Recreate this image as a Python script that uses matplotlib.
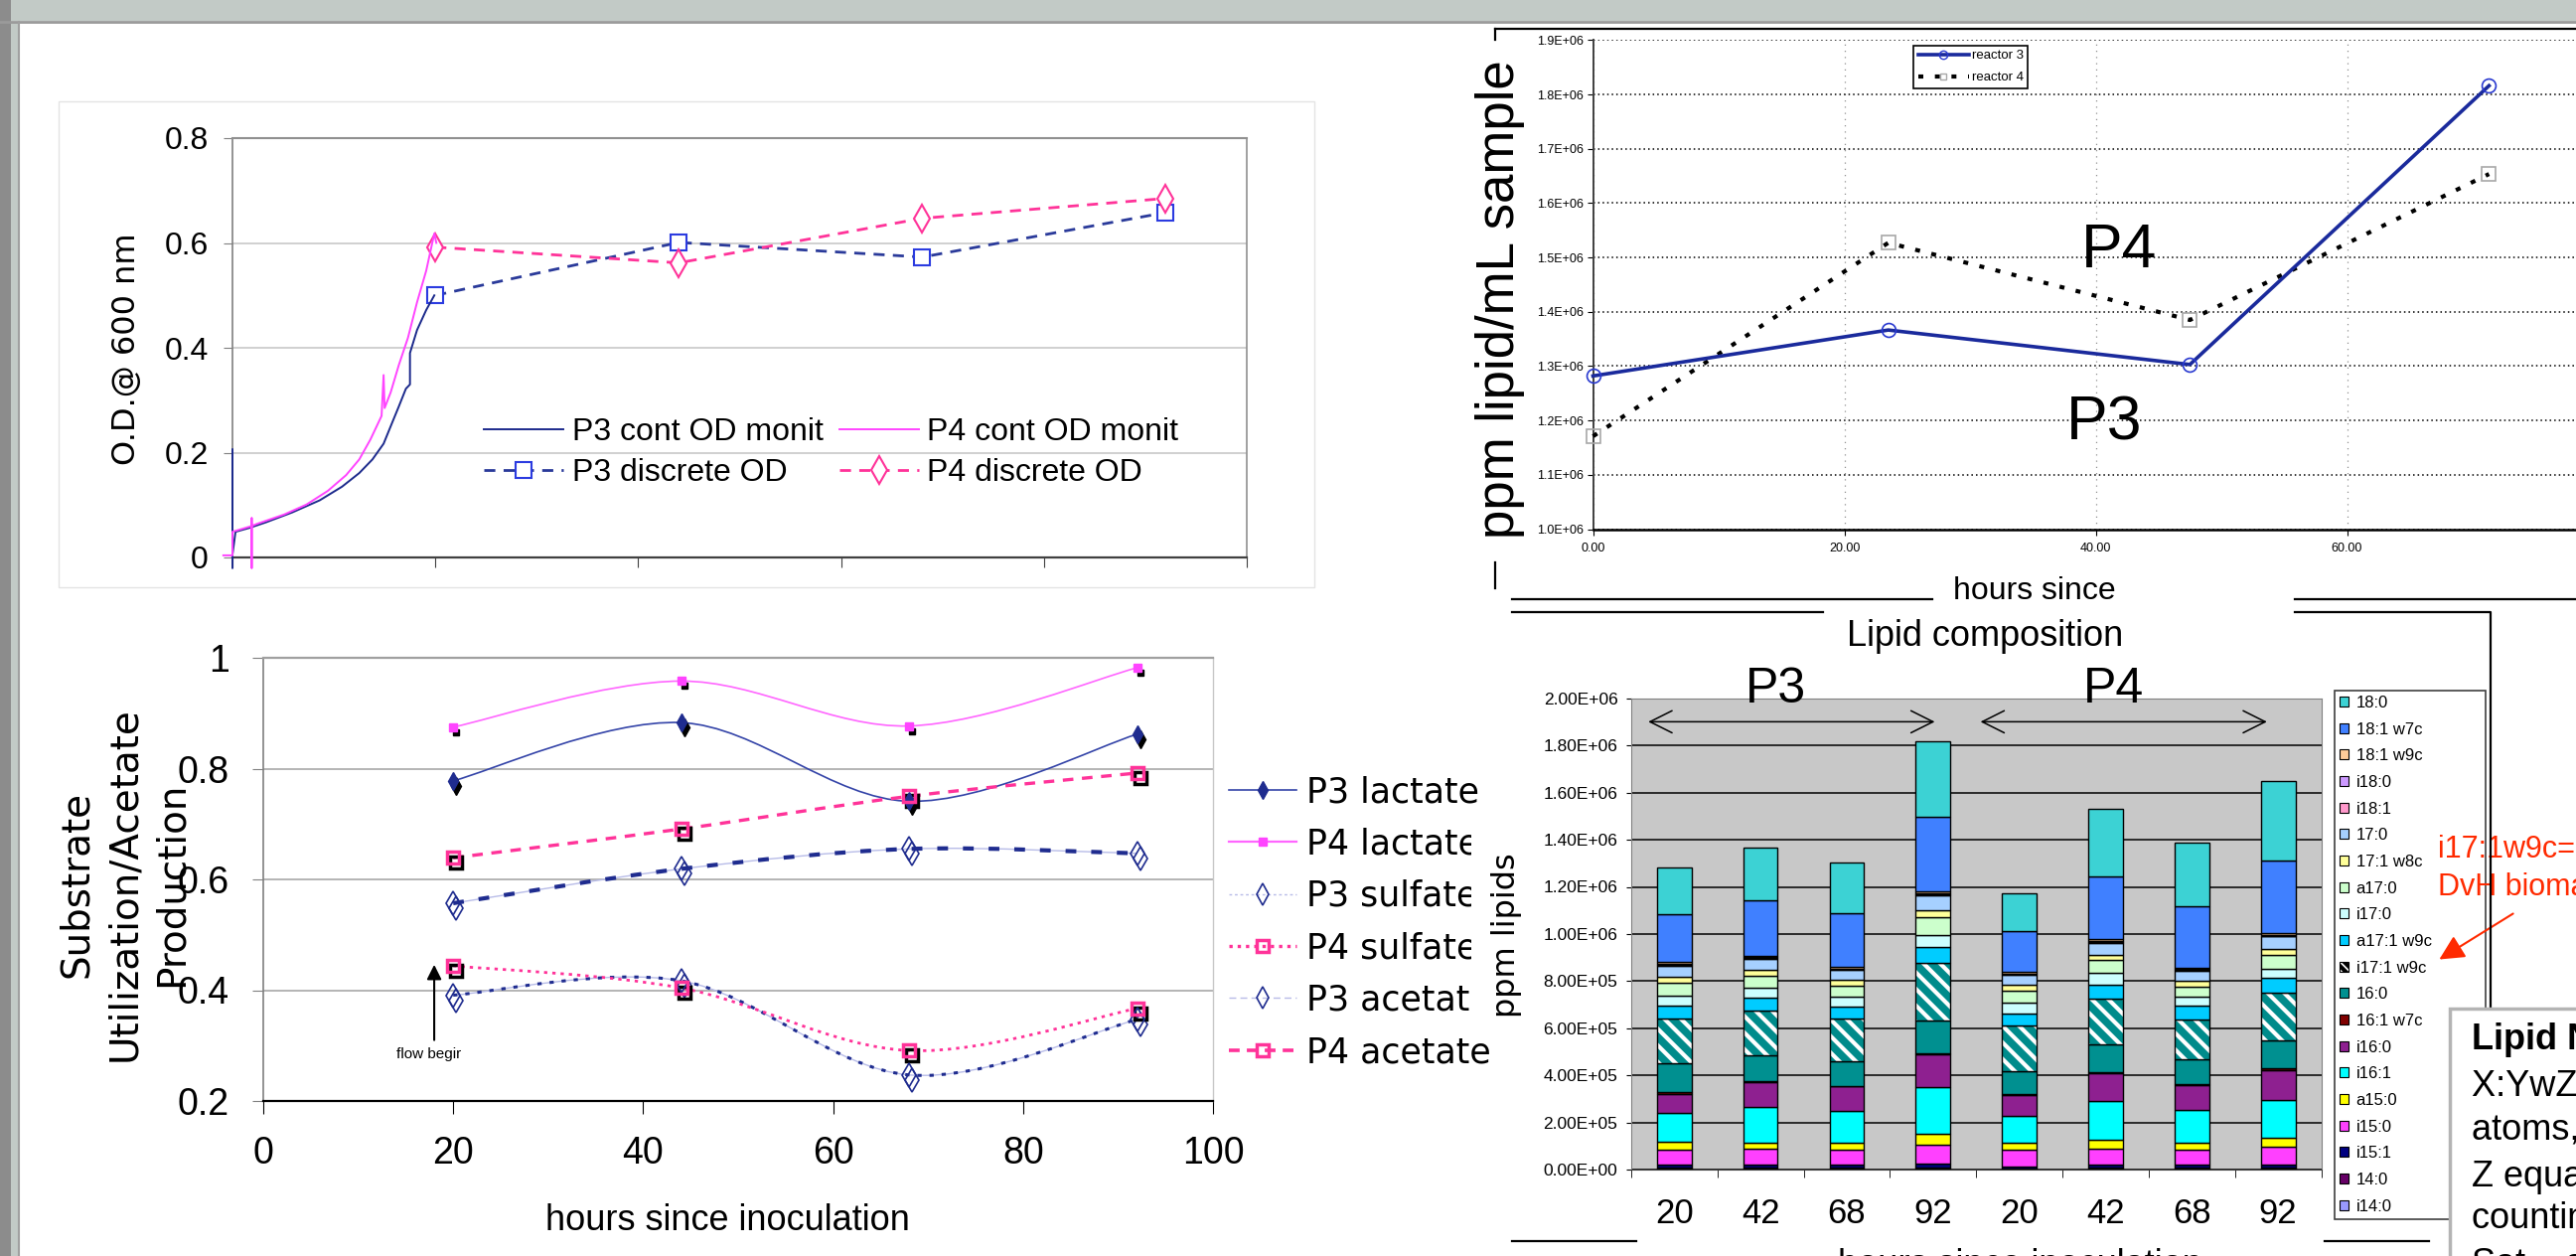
import numpy as np
import matplotlib
matplotlib.use("Agg")
from matplotlib import pyplot as plt
import matplotlib.patches as mpatches
from matplotlib.lines import Line2D
from matplotlib.path import Path
import matplotlib.transforms as mtransforms

W, H = 2593, 1264

# ---------------- data: optical density (top left)
od_cont_p3_hours = [0.0, 0.0, 0.0, 0.3, 1.6, 3.3, 5.9, 8.6, 10.8, 12.5, 13.8, 14.9,
                    15.7, 16.4, 17.1, 17.5, 17.5, 18.2, 19.1, 19.9]
od_cont_p3 = [-0.02, 0.206, 0.005, 0.049, 0.056, 0.067, 0.086, 0.109, 0.135, 0.161,
              0.187, 0.217, 0.255, 0.288, 0.322, 0.33, 0.39, 0.434, 0.472, 0.50]
od_cont_p4_hours = [-0.9, 0.0, 0.0, 1.9, 1.9, 1.9, 1.9, 2.4, 5.1, 7.3, 9.4, 11.2, 12.5,
                    13.6, 14.7, 14.9, 15.0, 15.6, 16.4, 17.3, 18.2, 19.1, 19.9, 20.1]
od_cont_p4 = [0.004, 0.004, 0.049, 0.060, 0.075, -0.02, 0.060, 0.064, 0.082, 0.101,
              0.127, 0.157, 0.187, 0.225, 0.270, 0.348, 0.285, 0.315, 0.367, 0.419,
              0.487, 0.547, 0.618, 0.60]
od_hours = [20, 44, 68, 92]
od_p3 = [0.500, 0.601, 0.573, 0.658]
od_p4 = [0.592, 0.562, 0.647, 0.685]
od_yticks = [0, 0.2, 0.4, 0.6, 0.8]
od_ylabels = ["0", "0.2", "0.4", "0.6", "0.8"]

# ---------------- data: substrate utilisation (bottom left)
sub_hours = [20, 44, 68, 92]
p3_lactate = [0.778, 0.883, 0.741, 0.862]
p4_lactate = [0.875, 0.958, 0.877, 0.982]
p3_sulfate = [0.391, 0.417, 0.247, 0.347]
p4_sulfate = [0.444, 0.404, 0.291, 0.367]
p3_acetate = [0.557, 0.619, 0.655, 0.647]
p4_acetate = [0.639, 0.691, 0.750, 0.792]
sub_yticks = [0.2, 0.4, 0.6, 0.8, 1.0]
sub_ylabels = ["0.2", "0.4", "0.6", "0.8", "1"]
sub_xticks = [0, 20, 40, 60, 80, 100]

# ---------------- data: total lipid (top right)
lipid_hours = [0.0, 23.5, 47.5, 71.3]
reactor3 = [1.282e6, 1.3665e6, 1.303e6, 1.816e6]
reactor4 = [1.171e6, 1.527e6, 1.385e6, 1.6535e6]
lipid_yticks = [1.0e6, 1.1e6, 1.2e6, 1.3e6, 1.4e6, 1.5e6, 1.6e6, 1.7e6, 1.8e6, 1.9e6]
lipid_xticks = [0, 20, 40, 60, 80]

# ---------------- data: lipid composition (bottom right), ppm, bottom of stack first
bar_labels = ["20", "42", "68", "92", "20", "42", "68", "92"]
i14_0 = [2e3, 2e3, 2e3, 2e3, 2e3, 2e3, 2e3, 2e3]
c14_0 = [4e3, 4e3, 4e3, 5e3, 3e3, 4e3, 4e3, 4e3]
i15_1 = [15e3, 15e3, 15e3, 18e3, 9e3, 14e3, 14e3, 15e3]
i15_0 = [63e3, 66e3, 61e3, 82e3, 68e3, 69e3, 62e3, 75e3]
a15_0 = [32e3, 28e3, 30e3, 45e3, 30e3, 38e3, 31e3, 37e3]
i16_1 = [122e3, 149e3, 138e3, 196e3, 117e3, 165e3, 141e3, 163e3]
i16_0 = [82e3, 108e3, 103e3, 141e3, 89e3, 117e3, 104e3, 127e3]
c16_1w7c = [7e3, 3e3, 3e3, 4e3, 2e3, 3e3, 3e3, 6e3]
c16_0 = [122e3, 110e3, 103e3, 141e3, 97e3, 118e3, 107e3, 118e3]
i17_1w9c = [194e3, 190e3, 180e3, 242e3, 194e3, 196e3, 169e3, 203e3]
a17_1w9c = [52e3, 56e3, 52e3, 70e3, 51e3, 59e3, 58e3, 62e3]
i17_0 = [45e3, 42e3, 42e3, 51e3, 48e3, 48e3, 37e3, 39e3]
a17_0 = [51e3, 51e3, 49e3, 73e3, 49e3, 58e3, 46e3, 62e3]
c17_1w8c = [27e3, 25e3, 24e3, 31e3, 25e3, 20e3, 25e3, 25e3]
c17_0 = [48e3, 46e3, 41e3, 62e3, 42e3, 51e3, 41e3, 52e3]
i18_1 = [4e3, 4e3, 3e3, 4e3, 3e3, 3e3, 3e3, 3e3]
i18_0 = [4e3, 4e3, 4e3, 4e3, 3e3, 4e3, 3e3, 4e3]
c18_1w9c = [9e3, 3e3, 8e3, 9e3, 8e3, 11e3, 5e3, 8e3]
c18_1w7c = [203e3, 235e3, 225e3, 317e3, 172e3, 266e3, 261e3, 308e3]
c18_0 = [196e3, 227e3, 215e3, 320e3, 161e3, 287e3, 273e3, 338e3]
bar_yticks = [0, 2e5, 4e5, 6e5, 8e5, 1.0e6, 1.2e6, 1.4e6, 1.6e6, 1.8e6, 2.0e6]

stack = [  # (label, values, colour), bottom to top
    ("i14:0", i14_0, "#9999ff"),
    ("14:0", c14_0, "#660066"),
    ("i15:1", i15_1, "#000080"),
    ("i15:0", i15_0, "#ff40ff"),
    ("a15:0", a15_0, "#ffff00"),
    ("i16:1", i16_1, "#00ffff"),
    ("i16:0", i16_0, "#8e2090"),
    ("16:1 w7c", c16_1w7c, "#800000"),
    ("16:0", c16_0, "#009090"),
    ("i17:1 w9c", i17_1w9c, "hatch"),
    ("a17:1 w9c", a17_1w9c, "#00ccff"),
    ("i17:0", i17_0, "#ccffff"),
    ("a17:0", a17_0, "#ccffcc"),
    ("17:1 w8c", c17_1w8c, "#ffff99"),
    ("17:0", c17_0, "#a6d0ff"),
    ("i18:1", i18_1, "#ff99cc"),
    ("i18:0", i18_0, "#cc99ff"),
    ("18:1 w9c", c18_1w9c, "#ffcc99"),
    ("18:1 w7c", c18_1w7c, "#4080ff"),
    ("18:0", c18_0, "#3cd2d4"),
]

plt.rcParams['font.family'] = ['Liberation Sans', 'DejaVu Sans']
plt.rcParams['hatch.linewidth'] = 3.0

fig = plt.figure(figsize=(W / 100, H / 100), dpi=100)
fig.patch.set_facecolor("white")


def fx(px):
    return px / W


def fy(py):
    return 1 - py / H


def rect(l, t, r, b):
    return [l / W, 1 - b / H, (r - l) / W, (b - t) / H]


def fig_line(xs, ys, color="black", lw=1.2, z=2):
    fig.add_artist(Line2D([fx(x) for x in xs], [fy(y) for y in ys], color=color, lw=lw, zorder=z))


def fig_box(l, t, r, b, fc, ec="none", lw=0, z=-5):
    fig.add_artist(mpatches.Rectangle((fx(l), fy(b)), (r - l) / W, (b - t) / H,
                                      facecolor=fc, edgecolor=ec, lw=lw, zorder=z))


def smooth_path(xs, ys):
    # Excel style smoothed line: bezier segments through the data points
    xs = np.asarray(xs, float)
    ys = np.asarray(ys, float)
    n = len(xs)
    verts = [(xs[0], ys[0])]
    codes = [Path.MOVETO]
    for i in range(n - 1):
        xa, ya = (xs[i - 1], ys[i - 1]) if i > 0 else (xs[i], ys[i])
        xb, yb = (xs[i + 2], ys[i + 2]) if i + 2 < n else (xs[i + 1], ys[i + 1])
        verts.append((xs[i] + (xs[i + 1] - xa) / 6, ys[i] + (ys[i + 1] - ya) / 6))
        verts.append((xs[i + 1] - (xb - xs[i]) / 6, ys[i + 1] - (yb - ys[i]) / 6))
        verts.append((xs[i + 1], ys[i + 1]))
        codes += [Path.CURVE4] * 3
    return Path(verts, codes)


# ---------------- slide chrome
fig_box(0, 0, W, 21, "#c2cac6")
fig_line([0, W], [22, 22], color="#9a9a9a", lw=2)
fig_box(0, 0, 11, H, "#8c8c8c")
fig_box(11, 22, 18, H, "#c2cac6")
fig_line([19, 19], [22, H], color="#a0a0a0", lw=1.5)
fig_box(59, 102, 1323, 591, "none", ec="#e4e4e4", lw=1, z=-4)

# ---------------- top left: O.D.
ax1 = fig.add_axes(rect(234, 139, 1255, 561))
ax1.plot(od_cont_p3_hours, od_cont_p3, color="#1c2a8c", lw=1.4, clip_on=False, zorder=3,
         label="P3 cont OD monit")
ax1.plot(od_cont_p4_hours, od_cont_p4, color="#ff44ff", lw=1.4, clip_on=False, zorder=3,
         label="P4 cont OD monit")
ax1.plot(od_hours, od_p3, color="#2a3a9a", lw=2, linestyle=(0, (4, 3)), marker="s", ms=11,
         mfc="white", mec="#2b3be0", mew=1.5, label="P3 discrete OD")
ax1.plot(od_hours, od_p4, color="#ff3399", lw=2, linestyle=(0, (4, 3)), marker="d", ms=14,
         mfc="white", mec="#ff3399", mew=1.5, label="P4 discrete OD")
ax1.set_xlim(0, 100)
ax1.set_ylim(0, 0.8)
ax1.set_xticks(sub_xticks)
ax1.set_xticklabels([])
ax1.set_yticks(od_yticks)
ax1.set_yticklabels(od_ylabels)
ax1.grid(axis="y", color="#c8c8c8", lw=1.2)
ax1.set_axisbelow(True)
ax1.tick_params(axis="y", direction="out", length=6.5, color="#808080", labelsize=23, pad=11)
ax1.tick_params(axis="x", direction="out", length=7, color="#404040")
for side, c, w in [("left", "#808080", 1.2), ("bottom", "#404040", 1.6), ("top", "#909090", 1.5), ("right", "#909090", 1.2)]:
    ax1.spines[side].set_color(c)
    ax1.spines[side].set_linewidth(w)
h1, l1 = ax1.get_legend_handles_labels()
ax1.legend([h1[0], h1[2], h1[1], h1[3]], [l1[0], l1[2], l1[1], l1[3]], ncol=2,
           loc="upper left", bbox_to_anchor=(fx(487), fy(420)), bbox_transform=fig.transFigure,
           frameon=False, borderpad=0, borderaxespad=0, fontsize=23, handlelength=2.5,
           handletextpad=0.28, columnspacing=0.5, labelspacing=0.36)
fig.text(fx(128), fy(351), "O.D.@ 600 nm", rotation=90, ha="center", va="center",
         family="DejaVu Sans", fontsize=23)

# ---------------- bottom left: substrate utilisation
ax2 = fig.add_axes(rect(265, 662, 1221, 1108))
navy = "#1f2c8f"
pink = "#ff3399"
lav = "#b8bce8"
ax2.add_patch(mpatches.PathPatch(smooth_path(sub_hours, p3_lactate), fill=False, ec="#3444a8", lw=1.2))
ax2.add_patch(mpatches.PathPatch(smooth_path(sub_hours, p4_lactate), fill=False, ec="#ff66ff", lw=1.2))
for vals in (p3_acetate, p3_sulfate):
    ax2.add_patch(mpatches.PathPatch(smooth_path(sub_hours, vals), fill=False, ec=lav, lw=1.0))
ax2.add_patch(mpatches.PathPatch(smooth_path(sub_hours, p3_acetate), fill=False, ec=navy, lw=3, linestyle=(0, (2.6, 3.6))))
ax2.add_patch(mpatches.PathPatch(smooth_path(sub_hours, p3_sulfate), fill=False, ec=navy, lw=2.2, linestyle=(0, (1.4, 2.6))))
ax2.add_patch(mpatches.PathPatch(smooth_path(sub_hours, p4_acetate), fill=False, ec=pink, lw=2.4, linestyle=(0, (3.2, 2.6))))
ax2.add_patch(mpatches.PathPatch(smooth_path(sub_hours, p4_sulfate), fill=False, ec=pink, lw=2.0, linestyle=(0, (1.2, 1.8))))

shadow = mtransforms.offset_copy(ax2.transData, fig=fig, x=3, y=-5, units="dots")
ax2.plot(sub_hours, p4_lactate, ls="none", marker="s", ms=5, color="black", transform=shadow)
ax2.plot(sub_hours, p3_lactate, ls="none", marker="d", ms=9, color="black", transform=shadow)
ax2.plot(sub_hours, p3_acetate, ls="none", marker="d", ms=12, mfc="none", mec=navy, mew=1.2, transform=shadow)
ax2.plot(sub_hours, p3_sulfate, ls="none", marker="d", ms=12, mfc="none", mec=navy, mew=1.2, transform=shadow)
ax2.plot(sub_hours, p4_acetate, ls="none", marker="s", ms=8, mfc="none", mec="black", mew=2.5, transform=shadow)
ax2.plot(sub_hours, p4_sulfate, ls="none", marker="s", ms=8, mfc="none", mec="black", mew=2.5, transform=shadow)
ax2.plot(sub_hours, p3_lactate, ls="none", marker="d", ms=9, color=navy, clip_on=False)
ax2.plot(sub_hours, p4_lactate, ls="none", marker="s", ms=6, color="#ff44ff", clip_on=False)
ax2.plot(sub_hours, p3_acetate, ls="none", marker="d", ms=12, mfc="none", mec=navy, mew=1.2)
ax2.plot(sub_hours, p3_sulfate, ls="none", marker="d", ms=12, mfc="none", mec=navy, mew=1.2)
ax2.plot(sub_hours, p4_acetate, ls="none", marker="s", ms=9, mfc="none", mec=pink, mew=2.5)
ax2.plot(sub_hours, p4_sulfate, ls="none", marker="s", ms=9, mfc="none", mec=pink, mew=2.5)

ax2.annotate("", xy=(18, 0.446), xytext=(18, 0.31),
             arrowprops=dict(arrowstyle="-|>", color="black", lw=1.5, mutation_scale=22, shrinkA=0, shrinkB=0))
ax2.text(17.4, 0.284, "flow begir", ha="center", va="center", fontsize=11,
         family=["Liberation Sans Narrow", "Liberation Sans"])

ax2.set_xlim(0, 100)
ax2.set_ylim(0.2, 1.0)
ax2.set_xticks(sub_xticks)
ax2.set_xticklabels([str(v) for v in sub_xticks])
ax2.set_yticks(sub_yticks)
ax2.set_yticklabels(sub_ylabels)
ax2.grid(axis="y", color="#b4b4b4", lw=1.4)
ax2.set_axisbelow(True)
ax2.tick_params(axis="y", direction="out", length=7.7, color="#808080", labelsize=27, pad=17)
ax2.tick_params(axis="x", direction="out", length=9.4, color="black", labelsize=27, pad=16)
for side, c, w in [("left", "#808080", 1.2), ("bottom", "black", 1.6), ("top", "#a0a0a0", 1.6), ("right", "#c8c8c8", 1.0)]:
    ax2.spines[side].set_color(c)
    ax2.spines[side].set_linewidth(w)
ax2.set_xlabel("hours since inoculation", fontsize=26)
ax2.xaxis.set_label_coords((732 - 265) / (1221 - 265), (1108 - 1228) / (1108 - 662))
ax2.xaxis.label.set_va("center")

sub_handles = [
    Line2D([], [], color="#3444a8", lw=1.2, marker="d", ms=9, mfc=navy, mec=navy),
    Line2D([], [], color="#ff66ff", lw=1.6, marker="s", ms=6, mfc="#ff44ff", mec="#ff44ff"),
    Line2D([], [], color=lav, lw=1.0, ls=(0, (2, 2)), marker="d", ms=11, mfc="none", mec=navy, mew=1.2),
    Line2D([], [], color=pink, lw=2.4, ls=(0, (1, 1.5)), marker="s", ms=8, mfc="none", mec=pink, mew=2.5),
    Line2D([], [], color=lav, lw=1.0, ls=(0, (5, 3)), marker="d", ms=11, mfc="none", mec=navy, mew=1.2),
    Line2D([], [], color=pink, lw=2.6, ls=(0, (3, 2)), marker="s", ms=8, mfc="none", mec=pink, mew=2.5),
]
sub_names = ["P3 lactate", "P4 lactate", "P3 sulfate", "P4 sulfate", "P3 acetate", "P4 acetate"]
ax2.legend(sub_handles, sub_names, loc="upper left", bbox_to_anchor=(fx(1237), fy(780)),
           bbox_transform=fig.transFigure, frameon=False, borderpad=0, borderaxespad=0,
           handlelength=1.96, handletextpad=0.29, labelspacing=0.53,
           prop={"family": "DejaVu Sans", "size": 25})
fig.text(fx(125), fy(890), "Substrate\nUtilization/Acetate\nProduction", rotation=90,
         ha="center", va="center", multialignment="center", family="DejaVu Sans",
         fontsize=28, linespacing=1.32)

# white panel of the right hand object hides the tail of some legend texts
fig_box(1481, 823, 1545, 1035, "white", z=1)

# ---------------- top right: lipid per mL
ax3 = fig.add_axes(rect(1603.5, 40.3, 2615.5, 532.6))
ax3.plot(lipid_hours, reactor3, color="#1a2a9c", lw=2.6, marker="o", ms=10, mfc="none",
         mec="#2a3ad0", mew=1.2, clip_on=False, zorder=4)
ax3.plot(lipid_hours, reactor4, color="black", lw=3, ls=(0, (1.2, 2.8)), clip_on=False, zorder=3)
ax3.plot(lipid_hours, reactor4, ls="none", marker="s", ms=10, mfc="none", mec="#a8a8a8",
         mew=1.2, clip_on=False, zorder=3)
ax3.set_xlim(0, 80)
ax3.set_ylim(1.0e6, 1.9e6)
ax3.set_yticks(lipid_yticks)
ax3.set_yticklabels([f"{v:.1E}" for v in lipid_yticks])
ax3.set_xticks(lipid_xticks)
ax3.set_xticklabels([f"{v:.2f}" for v in lipid_xticks])
ax3.yaxis.grid(True, color="black", lw=1.1, ls=(0, (1, 2)))
ax3.xaxis.grid(True, color="#909090", lw=0.9, ls=(0, (1, 4)))
ax3.tick_params(axis="both", direction="out", length=4, labelsize=9, pad=3)
ax3.tick_params(axis="x", pad=6)
ax3.spines["top"].set_visible(False)
ax3.spines["right"].set_visible(False)
ax3.spines["left"].set_color("#404040")
ax3.spines["left"].set_linewidth(1.4)
ax3.spines["bottom"].set_linewidth(1.8)
ax3.text(41.86, 1.482e6, "P4", ha="center", va="baseline", fontsize=45)
ax3.text(40.7, 1.164e6, "P3", ha="center", va="baseline", fontsize=45)
lip_handles = [
    Line2D([], [], color="#1a2a9c", lw=2.6, marker="o", ms=6, mfc="none", mec="#2a3ad0"),
    Line2D([], [], color="black", lw=3, ls=(0, (1.2, 2.8)), marker="s", ms=5, mfc="none", mec="#a8a8a8"),
]
leg3 = ax3.legend(lip_handles, ["reactor 3", "reactor 4"], loc="upper left",
                  bbox_to_anchor=(fx(1926), fy(45.5)), bbox_transform=fig.transFigure,
                  fancybox=False, borderaxespad=0, borderpad=0.35, fontsize=9.5,
                  handlelength=3.9, handletextpad=0.2, labelspacing=0.75, framealpha=1)
leg3.get_frame().set_edgecolor("black")
leg3.get_frame().set_linewidth(1.2)
fig.text(fx(1510), fy(301), "ppm lipid/mL sample", rotation=90, ha="center", va="center", fontsize=38)

# frame lines of the right hand objects
fig_line([1505, W], [29, 29], lw=1.6)
fig_line([1505, 1505], [29, 40], lw=1.6)
fig_line([1505, 1505], [566, 592], lw=1.6)
fig_line([1522, 1945], [603, 603], lw=1.6)
fig_line([2310, W], [603, 603], lw=1.6)
fig_line([1522, 1835], [616, 616], lw=1.6)
fig_line([2310, 2507, 2507], [616, 616, 1015], lw=1.6, z=3)
fig_line([1522, 1647], [1249, 1249], lw=1.6)
fig_line([2340, 2445], [1249, 1249], lw=1.6)
fig.text(fx(2048), fy(595), "hours since", ha="center", va="center", fontsize=23)
fig.text(fx(1998), fy(641), "Lipid composition", ha="center", va="center", fontsize=26)
fig.text(fx(2033), fy(1256), "hours since inoculation", ha="center", va="top", fontsize=26)

# ---------------- bottom right: lipid composition
ax4 = fig.add_axes(rect(1641.8, 702.9, 2336.6, 1176.9))
ax4.set_facecolor("#c8c8c8")
xpos = np.arange(len(bar_labels))
bottom = np.zeros(len(bar_labels))
for name, vals, col in stack:
    vals = np.asarray(vals)
    if col == "hatch":
        ax4.bar(xpos, vals, 0.4, bottom=bottom, facecolor="#008b8b", edgecolor="white",
                hatch="\\\\", lw=0, zorder=2)
        ax4.bar(xpos, vals, 0.4, bottom=bottom, fill=False, edgecolor="black", lw=1, zorder=2)
    else:
        ax4.bar(xpos, vals, 0.4, bottom=bottom, color=col, edgecolor="black", lw=1, zorder=2)
    bottom += vals
ax4.set_xlim(-0.5, len(bar_labels) - 0.5)
ax4.set_ylim(0, 2.0e6)
ax4.set_yticks(bar_yticks)
ax4.set_yticklabels([f"{v:.2E}" for v in bar_yticks])
ax4.set_xticks(xpos)
ax4.set_xticklabels(bar_labels)
ax4.set_xticks(np.arange(-0.5, len(bar_labels), 1), minor=True)
ax4.tick_params(axis="x", which="major", length=0, labelsize=25, pad=20)
ax4.tick_params(axis="x", which="minor", length=6, direction="out")
ax4.tick_params(axis="y", direction="out", length=3.6, labelsize=12.5, pad=6)
ax4.yaxis.grid(True, color="black", lw=1.1)
ax4.set_axisbelow(True)
for side in ["top", "right", "left"]:
    ax4.spines[side].set_color("#808080")
ax4.spines["bottom"].set_color("#404040")
ax4.annotate("", xy=(3.02, 1.901e6), xytext=(-0.30, 1.901e6),
             arrowprops=dict(arrowstyle="<->,head_length=0.4,head_width=0.2", mutation_scale=40,
                             lw=1.1, color="black", shrinkA=0, shrinkB=0))
ax4.annotate("", xy=(6.87, 1.901e6), xytext=(3.55, 1.901e6),
             arrowprops=dict(arrowstyle="<->,head_length=0.4,head_width=0.2", mutation_scale=40,
                             lw=1.1, color="black", shrinkA=0, shrinkB=0))
ax4.text(1.18, 1.981e6, "P3", ha="center", va="baseline", fontsize=36, clip_on=False)
ax4.text(5.09, 1.981e6, "P4", ha="center", va="baseline", fontsize=36, clip_on=False)

leg_handles = []
for name, vals, col in stack[::-1]:
    if col == "hatch":
        leg_handles.append(mpatches.Patch(facecolor="white", edgecolor="black", hatch="\\\\\\\\", lw=0.8))
    else:
        leg_handles.append(mpatches.Patch(facecolor=col, edgecolor="black", lw=0.8))
leg4 = ax4.legend(leg_handles, [s[0] for s in stack[::-1]], loc="upper left",
                  bbox_to_anchor=(fx(2350), fy(1230), (2502 - 2350) / W, (1230 - 695) / H),
                  bbox_transform=fig.transFigure, mode="expand", fancybox=False,
                  borderaxespad=0, borderpad=0.3, fontsize=12, handlelength=0.55,
                  handleheight=0.55, handletextpad=0.45, labelspacing=0.7, framealpha=1)
leg4.get_frame().set_edgecolor("#404040")
leg4.get_frame().set_linewidth(1.2)
fig.text(fx(1516), fy(941), "ppm lipids", rotation=90, ha="center", va="center",
         family="DejaVu Sans", fontsize=23, zorder=3)

# ---------------- annotations on the right edge
red = "#ff2a00"
fig.text(fx(2454), fy(855), "i17:1w9c=", color=red, fontsize=22, va="center", zorder=2)
fig.text(fx(2454), fy(893), "DvH biomarker", color=red, fontsize=22, va="center", zorder=2)
fig.add_artist(mpatches.FancyArrowPatch((fx(2532), fy(918)), (fx(2453), fy(967)),
                                        transform=fig.transFigure, arrowstyle="-|>",
                                        mutation_scale=38, color=red, lw=1.5, zorder=2))
fig_box(2466, 1015, 2620, 1290, "white", ec="#b4b4b4", lw=2.5, z=4)
note_lines = ["Lipid Nomenclature", "X:YwZ, X = # of carbon", "atoms, Y = # double bonds,",
              "Z equals position", "counting from the ω end", "Sat = saturated"]
note_y = [1047, 1093, 1137, 1184, 1227, 1272]
for i, (txt, yy) in enumerate(zip(note_lines, note_y)):
    fig.text(fx(2488), fy(yy), txt, fontsize=26, va="center", zorder=5,
             weight="bold" if i == 0 else "normal")

fig.savefig("out.png", dpi=100)
